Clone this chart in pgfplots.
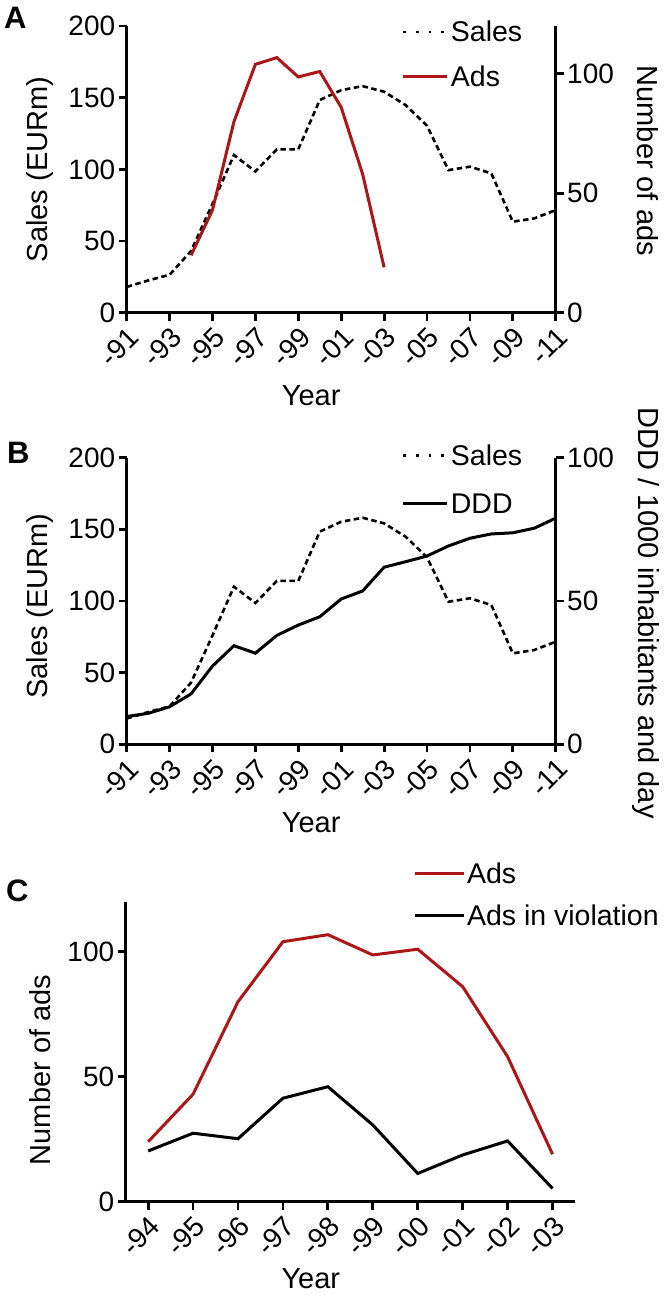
\documentclass[border=0pt]{standalone}
\usepackage{fontspec}
\setmainfont{Liberation Sans}
\usepackage{pgfplots}
\pgfplotsset{compat=1.18}
\definecolor{adsred}{RGB}{172,22,22}

\pgfplotsset{
  base/.style={
    scale only axis,
    clip=false,
    axis line style={line width=2.8pt},
    every tick/.style={line width=2.8pt, black},
    major tick length=8pt,
    tick align=outside,
    ticklabel style={font=\fontsize{28}{32}\selectfont},
    label style={font=\fontsize{29}{34}\selectfont},
    /pgf/number format/assume math mode=true,
    legend cell align=left,
    legend image code/.code={\draw[#1] (0pt,0pt) -- (44pt,0pt);},
  },
  yearaxis/.style={
    xmin=1991, xmax=2011,
    xtick={1991,1993,...,2011},
    xticklabels={-91,-93,-95,-97,-99,-01,-03,-05,-07,-09,-11},
    xticklabel style={rotate=45, anchor=north east},
  },
  salesline/.style={black, line width=2.6pt, dash pattern=on 5.5pt off 3.5pt},
  saleslegend/.style={black, line width=2.8pt, dash pattern=on 2.7pt off 9.9pt},
  adsline/.style={adsred, line width=3pt},
  blackline/.style={black, line width=3pt},
}

\pgfplotstableread{
year sales
1991 18
1992 22.5
1993 26.5
1994 43
1995 76
1996 110
1997 98.6
1998 114
1999 114
2000 148.4
2001 155.3
2002 158.1
2003 154.2
2004 144.9
2005 130.5
2006 99.5
2007 101.9
2008 97.2
2009 63.5
2010 65.8
2011 71.6
}\salestable

\pgfplotstableread{
year ddd
1991 9.7
1992 10.8
1993 13.1
1994 17.6
1995 27.3
1996 34.4
1997 31.8
1998 38
1999 41.6
2000 44.5
2001 50.7
2002 53.5
2003 61.8
2004 63.7
2005 65.7
2006 69.2
2007 71.9
2008 73.4
2009 73.8
2010 75.4
2011 78.9
}\dddtable

\pgfplotstableread{
year ads violation
1994 24 20.3
1995 43 27.4
1996 80 25.2
1997 104 41.4
1998 106.8 46
1999 98.7 30.7
2000 101 11.3
2001 86 18.7
2002 58 24.3
2003 19 5.3
}\adstable

\begin{document}
\begin{tikzpicture}
\path[use as bounding box] (0pt,0pt) rectangle (664pt,-1295pt);

% ---------------- Panel A ----------------
\node[font=\fontsize{31}{34}\selectfont\bfseries, anchor=north west, inner sep=0pt] at (4pt,-7pt) {A};
\begin{axis}[base, yearaxis,
  at={(126.7pt,-312.7pt)}, anchor=south west,
  width=429pt, height=286.6pt,
  axis x line*=bottom, axis y line*=left,
  ymin=0, ymax=200, ytick={0,50,100,150,200},
  xlabel={Year}, ylabel={Sales (EURm)},
  xlabel style={at={(axis description cs:0.43,-0.289)}, anchor=center},
  ylabel style={at={(axis description cs:-0.2024,0.5)}, anchor=center},
]
\addplot[salesline] table[x=year, y=sales] {\salestable};
\end{axis}
\begin{axis}[base,
  at={(126.7pt,-312.7pt)}, anchor=south west,
  width=429pt, height=286.6pt,
  xmin=1991, xmax=2011,
  axis x line=none, axis y line*=right,
  ymin=0, ymax=120, ytick={0,50,100},
  ylabel={Number of ads},
  ylabel style={at={(axis description cs:1.215,0.53)}, anchor=center, rotate=180},
  legend style={draw=none, fill=none, at={(axis description cs:0.641,1.022)}, anchor=north west,
    inner sep=0pt, row sep=21pt, font=\fontsize{28.5}{32}\selectfont,
    nodes={inner sep=2pt, text height=20pt, text depth=0pt}},
]
\addlegendimage{saleslegend}
\addlegendentry{Sales}
\addplot[adsline] table[x=year, y=ads] {\adstable};
\addlegendentry{Ads}
\end{axis}

% ---------------- Panel B ----------------
\node[font=\fontsize{31}{34}\selectfont\bfseries, anchor=north west, inner sep=0pt] at (7pt,-442pt) {B};
\begin{axis}[base, yearaxis,
  at={(126.7pt,-744.3pt)}, anchor=south west,
  width=429pt, height=286.6pt,
  axis x line*=bottom, axis y line*=left,
  ymin=0, ymax=200, ytick={0,50,100,150,200},
  xlabel={Year}, ylabel={Sales (EURm)},
  xlabel style={at={(axis description cs:0.43,-0.273)}, anchor=center},
  ylabel style={at={(axis description cs:-0.2024,0.482)}, anchor=center},
]
\addplot[salesline] table[x=year, y=sales] {\salestable};
\end{axis}
\begin{axis}[base,
  at={(126.7pt,-744.3pt)}, anchor=south west,
  width=429pt, height=286.6pt,
  xmin=1991, xmax=2011,
  axis x line=none, axis y line*=right,
  ymin=0, ymax=100, ytick={0,50,100},
  ylabel={DDD / 1000 inhabitants and day},
  ylabel style={at={(axis description cs:1.21,0.458)}, anchor=center, rotate=180},
  legend style={draw=none, fill=none, at={(axis description cs:0.641,1.051)}, anchor=north west,
    inner sep=0pt, row sep=24pt, font=\fontsize{28.5}{32}\selectfont,
    nodes={inner sep=2pt, text height=20pt, text depth=0pt}},
]
\addlegendimage{saleslegend}
\addlegendentry{Sales}
\addplot[blackline] table[x=year, y=ddd] {\dddtable};
\addlegendentry{DDD}
\end{axis}

% ---------------- Panel C ----------------
\node[font=\fontsize{31}{34}\selectfont\bfseries, anchor=north west, inner sep=0pt] at (6pt,-880pt) {C};
\begin{axis}[base,
  at={(125.7pt,-1201.7pt)}, anchor=south west,
  width=449.3pt, height=300pt,
  axis x line*=bottom, axis y line*=left,
  xmin=1993.5, xmax=2003.5,
  xtick={1994,1995,...,2003},
  xticklabels={-94,-95,-96,-97,-98,-99,-00,-01,-02,-03},
  xticklabel style={rotate=45, anchor=north east},
  ymin=0, ymax=120, ytick={0,50,100},
  xlabel={Year}, ylabel={Number of ads},
  xlabel style={at={(axis description cs:0.412,-0.258)}, anchor=center},
  ylabel style={at={(axis description cs:-0.19,0.439)}, anchor=center},
  legend style={draw=none, fill=none, at={(axis description cs:0.639,1.135)}, anchor=north west,
    inner sep=0pt, row sep=17.7pt, font=\fontsize{28.5}{32}\selectfont,
    nodes={inner sep=2pt, text height=20pt, text depth=0pt}},
  legend image code/.code={\draw[#1] (0pt,0pt) -- (49pt,0pt);},
]
\addplot[adsline] table[x=year, y=ads] {\adstable};
\addlegendentry{Ads}
\addplot[blackline] table[x=year, y=violation] {\adstable};
\addlegendentry{Ads in violation}
\end{axis}
\end{tikzpicture}
\end{document}
